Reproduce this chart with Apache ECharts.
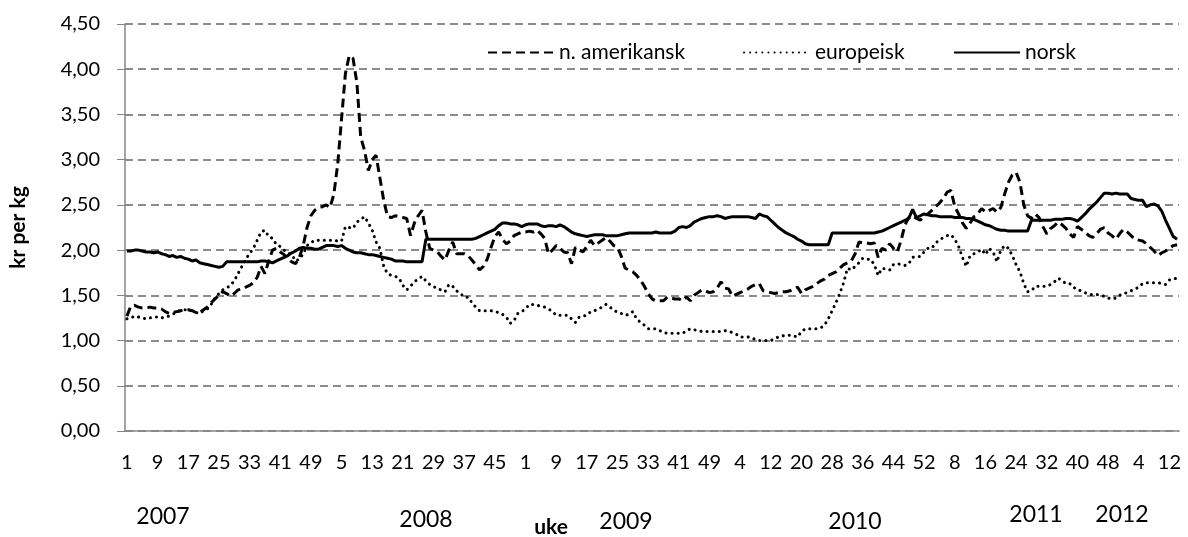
<!DOCTYPE html>
<html>
<head>
<meta charset="utf-8">
<script src="https://cdn.jsdelivr.net/npm/echarts@6/dist/echarts.min.js"></script>
<style>
    html, body { margin: 0; padding: 0; background: #fff; }
    #chart { width: 1188px; height: 537px; }
</style>
</head>
<body>
<div id="chart"></div>
<script>
// år og antall uker med data per år
const years = ['2007', '2008', '2009', '2010', '2011', '2012'];
const weeksPerYear = [52, 52, 53, 52, 52, 14];
const seriesNames = ['n. amerikansk', 'europeisk', 'norsk'];

// n. amerikansk (kr per kg), uke 1 2007 - uke 14 2012
const amerikansk = [
    // 2007
    1.27, 1.38, 1.39, 1.37, 1.36, 1.36, 1.37, 1.36, 1.36, 1.35,
    1.32, 1.30, 1.31, 1.32, 1.33, 1.34, 1.34, 1.33, 1.31, 1.31,
    1.34, 1.37, 1.42, 1.46, 1.50, 1.54, 1.52, 1.49, 1.52, 1.56,
    1.57, 1.59, 1.61, 1.64, 1.70, 1.82, 1.74, 1.88, 2.00, 2.02,
    1.98, 1.95, 1.90, 1.87, 1.85, 1.92, 2.05, 2.25, 2.38, 2.44, 2.47, 2.48,
    // 2008
    2.50, 2.47, 2.62, 2.95, 3.45, 3.95, 4.15, 4.12, 3.85, 3.25,
    3.10, 2.88, 3.00, 3.05, 2.80, 2.55, 2.37, 2.36, 2.38, 2.37,
    2.36, 2.35, 2.16, 2.30, 2.38, 2.44, 2.20, 2.02, 2.00, 1.98,
    1.93, 1.89, 2.00, 2.09, 1.96, 1.96, 1.96, 1.94, 1.89, 1.84,
    1.78, 1.82, 1.90, 2.03, 2.15, 2.20, 2.12, 2.07, 2.10, 2.16, 2.18, 2.20,
    // 2009
    2.20, 2.21, 2.20, 2.22, 2.18, 2.13, 1.96, 2.00, 2.05, 2.02,
    1.98, 1.97, 1.85, 2.03, 2.00, 1.98, 2.04, 2.11, 2.05, 2.08,
    2.11, 2.14, 2.10, 2.05, 2.03, 1.93, 1.80, 1.78, 1.76, 1.72,
    1.67, 1.60, 1.52, 1.46, 1.44, 1.44, 1.44, 1.48, 1.47, 1.46,
    1.46, 1.44, 1.48, 1.44, 1.50, 1.53, 1.56, 1.55, 1.53, 1.54, 1.58, 1.65, 1.58,
    // 2010
    1.57, 1.49, 1.51, 1.53, 1.55, 1.57, 1.60, 1.62, 1.63, 1.55,
    1.54, 1.53, 1.52, 1.53, 1.54, 1.54, 1.55, 1.57, 1.59, 1.52,
    1.56, 1.58, 1.60, 1.63, 1.66, 1.68, 1.72, 1.74, 1.76, 1.80,
    1.84, 1.86, 1.88, 1.96, 2.09, 2.08, 2.08, 2.07, 2.08, 1.92,
    2.02, 2.00, 2.07, 2.02, 1.98, 2.11, 2.28, 2.36, 2.38, 2.35, 2.33, 2.38,
    // 2011
    2.40, 2.44, 2.48, 2.52, 2.57, 2.64, 2.66, 2.48, 2.40, 2.30,
    2.24, 2.30, 2.37, 2.40, 2.46, 2.42, 2.44, 2.46, 2.42, 2.47,
    2.62, 2.75, 2.83, 2.86, 2.75, 2.50, 2.38, 2.35, 2.40, 2.36,
    2.26, 2.18, 2.24, 2.27, 2.31, 2.28, 2.24, 2.18, 2.14, 2.26,
    2.23, 2.20, 2.16, 2.14, 2.18, 2.23, 2.25, 2.19, 2.16, 2.12, 2.18, 2.23,
    // 2012
    2.20, 2.16, 2.12, 2.11, 2.10, 2.07, 2.03, 1.99, 1.94, 1.97, 1.99, 2.02, 2.05, 2.06
];

// europeisk (kr per kg)
const europeisk = [
    // 2007
    1.24, 1.25, 1.27, 1.26, 1.25, 1.24, 1.25, 1.26, 1.26, 1.25,
    1.26, 1.27, 1.29, 1.32, 1.33, 1.34, 1.34, 1.33, 1.31, 1.30,
    1.33, 1.35, 1.40, 1.47, 1.52, 1.56, 1.58, 1.61, 1.66, 1.74,
    1.82, 1.90, 1.96, 2.02, 2.11, 2.20, 2.22, 2.15, 2.13, 2.06,
    2.04, 2.00, 1.97, 1.95, 1.88, 1.90, 1.96, 2.05, 2.08, 2.11, 2.11, 2.11,
    // 2008
    2.11, 2.11, 2.11, 2.10, 2.10, 2.26, 2.25, 2.24, 2.31, 2.34,
    2.37, 2.30, 2.22, 2.09, 2.02, 1.82, 1.74, 1.72, 1.71, 1.69,
    1.61, 1.56, 1.60, 1.65, 1.68, 1.71, 1.66, 1.62, 1.60, 1.57,
    1.56, 1.54, 1.62, 1.60, 1.55, 1.52, 1.48, 1.48, 1.42, 1.37,
    1.33, 1.33, 1.33, 1.33, 1.32, 1.31, 1.29, 1.26, 1.19, 1.22, 1.30, 1.32,
    // 2009
    1.35, 1.40, 1.40, 1.39, 1.38, 1.37, 1.35, 1.32, 1.28, 1.28,
    1.28, 1.28, 1.24, 1.20, 1.26, 1.27, 1.28, 1.32, 1.33, 1.35,
    1.37, 1.40, 1.37, 1.34, 1.31, 1.30, 1.28, 1.29, 1.32, 1.24,
    1.20, 1.17, 1.13, 1.13, 1.13, 1.11, 1.09, 1.08, 1.08, 1.08,
    1.08, 1.08, 1.11, 1.13, 1.12, 1.11, 1.10, 1.10, 1.10, 1.10, 1.10, 1.10, 1.11,
    // 2010
    1.10, 1.09, 1.07, 1.04, 1.04, 1.04, 1.03, 1.01, 1.00, 1.00,
    1.00, 1.00, 1.02, 1.04, 1.05, 1.06, 1.06, 1.05, 1.04, 1.10,
    1.13, 1.13, 1.13, 1.13, 1.14, 1.17, 1.24, 1.33, 1.42, 1.52,
    1.64, 1.80, 1.78, 1.82, 1.86, 1.91, 1.90, 1.90, 1.84, 1.72,
    1.80, 1.79, 1.78, 1.84, 1.85, 1.84, 1.83, 1.85, 1.92, 1.93, 1.93, 1.98,
    // 2011
    2.02, 2.02, 2.08, 2.11, 2.14, 2.16, 2.17, 2.12, 2.04, 1.92,
    1.82, 1.94, 1.96, 1.98, 2.01, 1.95, 2.02, 1.98, 1.87, 2.00,
    2.05, 2.02, 1.94, 1.84, 1.76, 1.63, 1.54, 1.55, 1.60, 1.60,
    1.60, 1.60, 1.62, 1.65, 1.69, 1.66, 1.63, 1.63, 1.59, 1.56,
    1.55, 1.53, 1.51, 1.51, 1.51, 1.50, 1.49, 1.47, 1.46, 1.47, 1.50, 1.52,
    // 2012
    1.53, 1.55, 1.57, 1.59, 1.63, 1.64, 1.64, 1.64, 1.64, 1.63, 1.62, 1.67, 1.68, 1.69
];

// norsk (kr per kg)
const norsk = [
    // 2007
    1.99, 1.99, 2.00, 2.00, 1.99, 1.98, 1.98, 1.97, 1.98, 1.96,
    1.95, 1.93, 1.94, 1.92, 1.93, 1.91, 1.90, 1.88, 1.89, 1.86,
    1.85, 1.84, 1.83, 1.82, 1.81, 1.82, 1.87, 1.87, 1.87, 1.87,
    1.87, 1.87, 1.87, 1.87, 1.87, 1.88, 1.88, 1.87, 1.86, 1.88,
    1.90, 1.92, 1.94, 1.97, 1.99, 2.02, 2.03, 2.02, 2.02, 2.01, 2.01, 2.03,
    // 2008
    2.05, 2.05, 2.05, 2.04, 2.05, 2.02, 2.00, 1.98, 1.97, 1.97,
    1.96, 1.95, 1.95, 1.94, 1.93, 1.92, 1.91, 1.90, 1.88, 1.88,
    1.88, 1.87, 1.87, 1.87, 1.87, 1.87,
    2.12, 2.12, 2.12, 2.12, 2.12, 2.12, 2.12, 2.12, 2.12, 2.12, 2.12, 2.12, 2.12,
    2.13, 2.15, 2.17, 2.19, 2.21, 2.23, 2.27, 2.30, 2.30, 2.29, 2.29, 2.28, 2.26,
    // 2009
    2.28, 2.29, 2.29, 2.29, 2.27, 2.26, 2.27, 2.27, 2.26, 2.28,
    2.26, 2.23, 2.20, 2.18, 2.17, 2.16, 2.15, 2.16, 2.17, 2.17,
    2.17, 2.16, 2.16, 2.16, 2.16, 2.17, 2.18, 2.19, 2.19, 2.19,
    2.19, 2.19, 2.19, 2.19, 2.20, 2.19, 2.19, 2.19, 2.19, 2.21,
    2.25, 2.26, 2.25, 2.27, 2.31, 2.33, 2.35, 2.36, 2.37, 2.37, 2.38, 2.37, 2.35,
    // 2010
    2.36, 2.37, 2.37, 2.37, 2.37, 2.37, 2.36, 2.35, 2.40, 2.38,
    2.37, 2.33, 2.29, 2.25, 2.22, 2.19, 2.17, 2.15, 2.12, 2.10,
    2.07, 2.06, 2.06, 2.06, 2.06, 2.06, 2.06, 2.19, 2.19, 2.19,
    2.19, 2.19, 2.19, 2.19, 2.19, 2.19, 2.19, 2.19, 2.19, 2.20,
    2.21, 2.23, 2.25, 2.27, 2.29, 2.31, 2.33, 2.35, 2.45, 2.36, 2.38, 2.40,
    // 2011
    2.39, 2.38, 2.38, 2.37, 2.37, 2.37, 2.37, 2.36, 2.36, 2.36,
    2.35, 2.35, 2.34, 2.32, 2.30, 2.28, 2.27, 2.25, 2.23, 2.22,
    2.22, 2.21, 2.21, 2.21, 2.21, 2.21, 2.21, 2.33, 2.33, 2.33,
    2.33, 2.33, 2.33, 2.34, 2.34, 2.34, 2.35, 2.35, 2.34, 2.32,
    2.36, 2.40, 2.45, 2.49, 2.53, 2.58, 2.63, 2.63, 2.62, 2.63, 2.62, 2.62,
    // 2012
    2.62, 2.57, 2.56, 2.55, 2.55, 2.48, 2.50, 2.51, 2.49, 2.43, 2.33, 2.24, 2.15, 2.12
];

// ukenummer som kategorier
const weekLabels = [];
weeksPerYear.forEach(n => {
    for (let w = 1; w <= n; w++) weekLabels.push(String(w));
});

// årstall under aksen (plassert som i originalen)
const yearPos = [[163, 517], [426, 520], [626, 522], [855, 522], [1036, 515], [1122, 515]];
// forklaringens venstrekant per serie
const legendLeft = [482, 738, 948];

const fontFamily = 'Lato, "Open Sans", sans-serif';
const gray = '#868686';

let myChart = echarts.init(document.getElementById('chart'));

let option = {
    backgroundColor: '#ffffff',
    animation: false,
    textStyle: { fontFamily: fontFamily, color: '#000' },
    grid: { left: 115, right: 9, top: 24, bottom: 106 },
    // én forklaring per serie for å treffe plasseringen
    legend: seriesNames.map((name, i) => ({
        left: legendLeft[i],
        top: 37,
        itemWidth: 66,
        itemHeight: 12,
        itemGap: 6,
        itemStyle: { opacity: 0 },
        textStyle: { fontSize: 21, color: '#000', fontFamily: fontFamily },
        data: [name]
    })),
    xAxis: {
        type: 'category',
        data: weekLabels,
        boundaryGap: true,
        axisLine: { lineStyle: { color: gray, width: 1.5 } },
        axisTick: { interval: 0, length: 6, lineStyle: { color: gray } },
        axisLabel: { interval: 7, margin: 22, fontSize: 20, color: '#000', fontFamily: fontFamily },
        splitLine: { show: false }
    },
    yAxis: {
        type: 'value',
        min: 0,
        max: 4.5,
        interval: 0.5,
        name: 'kr per kg',
        nameLocation: 'middle',
        nameRotate: 90,
        nameGap: 96,
        nameTextStyle: { fontSize: 21, fontWeight: 'bold', color: '#000', fontFamily: fontFamily },
        axisLine: { show: true, lineStyle: { color: gray, width: 1.5 } },
        axisTick: { show: true, length: 8, lineStyle: { color: gray } },
        axisLabel: {
            margin: 25, fontSize: 20, color: '#000', fontFamily: fontFamily,
            formatter: v => v.toFixed(2).replace('.', ',')
        },
        splitLine: { lineStyle: { color: '#8c8c8c', width: 2, type: [8, 5] } }
    },
    graphic: yearPos.map((p, i) => ({
        type: 'text',
        x: p[0], y: p[1],
        style: {
            text: years[i], fontSize: 23, fontFamily: fontFamily, fill: '#000',
            align: 'center', verticalAlign: 'middle'
        }
    })).concat([{
        type: 'text',
        x: 551, y: 527,
        style: {
            text: 'uke', fontSize: 21, fontWeight: 'bold', fontFamily: fontFamily, fill: '#000',
            align: 'center', verticalAlign: 'middle'
        }
    }]),
    series: [
        {
            name: 'n. amerikansk',
            type: 'line',
            data: amerikansk,
            symbol: 'none',
            lineStyle: { color: '#000', width: 3, type: [9, 5] },
            itemStyle: { color: '#000' }
        },
        {
            name: 'europeisk',
            type: 'line',
            data: europeisk,
            symbol: 'none',
            lineStyle: { color: '#000', width: 3, type: [0.1, 6], cap: 'round' },
            itemStyle: { color: '#000' }
        },
        {
            name: 'norsk',
            type: 'line',
            data: norsk,
            symbol: 'none',
            lineStyle: { color: '#000', width: 3 },
            itemStyle: { color: '#000' }
        }
    ]
};

myChart.setOption(option);
</script>
</body>
</html>
